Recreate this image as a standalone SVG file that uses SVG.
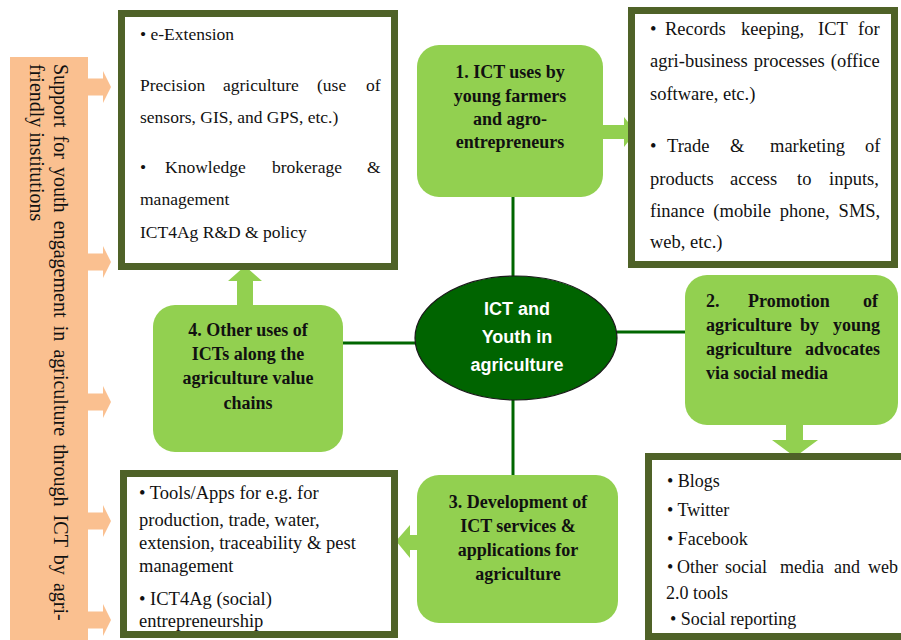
<svg xmlns="http://www.w3.org/2000/svg" width="901" height="640" viewBox="0 0 901 640">
<style>
.box{fill:#ffffff;stroke:#4f6228;stroke-width:7}
.node{fill:#92d050}
.arr{fill:#92d050}
.oarr{fill:#fac090}
.conn{stroke:#006600;stroke-width:3;fill:none}
.t{font-family:"Liberation Serif","Times New Roman",serif;fill:#111111}
.b{font-family:"Liberation Serif","Times New Roman",serif;font-weight:bold;font-size:18px;fill:#111111;text-anchor:middle}
.bl{font-family:"Liberation Serif","Times New Roman",serif;font-weight:bold;font-size:18px;fill:#111111}
.c{font-family:"Liberation Sans",Arial,sans-serif;font-weight:bold;font-size:18px;fill:#ffffff;text-anchor:middle}
</style>
<defs>
<polygon id="oa" points="88,-8.5 103,-8.5 103,-16 111,0 103,16 103,8.5 88,8.5"/>
</defs>
<rect width="901" height="640" fill="#ffffff"/>

<g id="support-bar">
<rect x="10" y="57" width="78" height="590" fill="#fac090"/>
<use href="#oa" class="oarr" y="87"/>
<use href="#oa" class="oarr" y="262"/>
<use href="#oa" class="oarr" y="402"/>
<use href="#oa" class="oarr" y="521"/>
<use href="#oa" class="oarr" y="620"/>
<g transform="translate(54,64) rotate(90)">
<text class="t" font-size="20" fill="#222" x="0" y="0" word-spacing="3.2">Support for youth engagement in agriculture through ICT by agri-</text>
<text class="t" font-size="20" fill="#222" x="0" y="24">friendly institutions</text>
</g>
</g>

<g id="connectors">
<line class="conn" x1="513" y1="197" x2="513" y2="277"/>
<line class="conn" x1="343" y1="343" x2="416" y2="343"/>
<line class="conn" x1="617" y1="332" x2="685" y2="332"/>
<line class="conn" x1="513" y1="399" x2="513" y2="475"/>
<polygon class="arr" points="602,125 624,125 624,117 636,132 624,147 624,139 602,139"/>
<polygon class="arr" points="237,305 237,281 228,281 245,266 262,281 253,281 253,305"/>
<polygon class="arr" points="786,424 786,440 772,440 795,457 818,440 803,440 803,424"/>
<polygon class="arr" points="418,535 410,535 410,525 396,541 410,558 410,550 418,550"/>
</g>

<g id="box-top-left">
<rect class="box" x="121.5" y="13.5" width="273" height="253"/>
<text class="t" font-size="17.5" x="140" y="40">• e-Extension</text>
<text class="t" font-size="17.5" y="91"><tspan x="140">Precision</tspan><tspan x="223">agriculture</tspan><tspan x="317">(use</tspan><tspan x="366">of</tspan></text>
<text class="t" font-size="17.5" x="140" y="123">sensors, GIS, and GPS, etc.)</text>
<text class="t" font-size="17.5" y="173"><tspan x="140">•</tspan><tspan x="165">Knowledge</tspan><tspan x="272">brokerage</tspan><tspan x="367">&amp;</tspan></text>
<text class="t" font-size="17.5" x="140" y="205">management</text>
<text class="t" font-size="17.5" x="140" y="238">ICT4Ag R&amp;D &amp; policy</text>
</g>

<g id="box-top-right">
<rect class="box" x="631.5" y="10.5" width="263" height="254"/>
<text class="t" font-size="18.5" y="35"><tspan x="650">•</tspan><tspan x="665">Records</tspan><tspan x="741">keeping,</tspan><tspan x="818">ICT</tspan><tspan x="858">for</tspan></text>
<text class="t" font-size="18.5" x="650" y="67" word-spacing="1.5">agri-business processes (office</text>
<text class="t" font-size="18.5" x="650" y="100">software, etc.)</text>
<text class="t" font-size="18.5" y="152"><tspan x="650">•</tspan><tspan x="667">Trade</tspan><tspan x="730">&amp;</tspan><tspan x="770">marketing</tspan><tspan x="865">of</tspan></text>
<text class="t" font-size="18.5" y="185"><tspan x="650">products</tspan><tspan x="730">access</tspan><tspan x="797">to</tspan><tspan x="829">inputs,</tspan></text>
<text class="t" font-size="18.5" x="650" y="217" word-spacing="4.3">finance (mobile phone, SMS,</text>
<text class="t" font-size="18.5" x="650" y="248">web, etc.)</text>
</g>

<g id="box-bottom-left">
<rect class="box" x="123.5" y="473.5" width="271" height="161"/>
<text class="t" font-size="18.5" x="139" y="499">• Tools/Apps for e.g. for</text>
<text class="t" font-size="18.5" x="139" y="526">production, trade, water,</text>
<text class="t" font-size="18.5" x="139" y="549">extension, traceability &amp; pest</text>
<text class="t" font-size="18.5" x="139" y="572">management</text>
<text class="t" font-size="18.5" x="139" y="605">• ICT4Ag (social)</text>
<text class="t" font-size="18.5" x="139" y="627">entrepreneurship</text>
</g>

<g id="box-bottom-right">
<rect class="box" x="648.5" y="456.5" width="262" height="180"/>
<text class="t" font-size="18" x="667" y="487">• Blogs</text>
<text class="t" font-size="18" x="667" y="516">• Twitter</text>
<text class="t" font-size="18" x="667" y="545">• Facebook</text>
<text class="t" font-size="18" y="573"><tspan x="667">•</tspan><tspan x="677">Other</tspan><tspan x="725">social</tspan><tspan x="780">media</tspan><tspan x="834">and</tspan><tspan x="868">web</tspan></text>
<text class="t" font-size="18" x="666" y="599">2.0 tools</text>
<text class="t" font-size="18" x="670" y="625">• Social reporting</text>
</g>

<g id="node-1">
<rect class="node" x="417" y="45" width="186" height="152" rx="22"/>
<text class="b" x="510" y="78">1. ICT uses by</text>
<text class="b" x="510" y="102">young farmers</text>
<text class="b" x="510" y="125">and agro-</text>
<text class="b" x="510" y="148">entrepreneurs</text>
</g>

<g id="node-2">
<rect class="node" x="685" y="275" width="213" height="150" rx="22"/>
<text class="bl" y="307"><tspan x="706">2.</tspan><tspan x="748">Promotion</tspan><tspan x="863">of</tspan></text>
<text class="bl" y="331"><tspan x="706">agriculture</tspan><tspan x="800">by</tspan><tspan x="833">young</tspan></text>
<text class="bl" y="355"><tspan x="706">agriculture</tspan><tspan x="805">advocates</tspan></text>
<text class="bl" x="706" y="379">via social media</text>
</g>

<g id="node-3">
<rect class="node" x="417" y="475" width="201" height="148" rx="22"/>
<text class="b" x="518" y="508">3. Development of</text>
<text class="b" x="518" y="532">ICT services &amp;</text>
<text class="b" x="518" y="556">applications for</text>
<text class="b" x="518" y="580">agriculture</text>
</g>

<g id="node-4">
<rect class="node" x="153" y="305" width="190" height="147" rx="22"/>
<text class="b" x="248" y="336">4. Other uses of</text>
<text class="b" x="248" y="360">ICTs along the</text>
<text class="b" x="248" y="384">agriculture value</text>
<text class="b" x="248" y="409">chains</text>
</g>

<g id="center">
<ellipse cx="516" cy="338" rx="101" ry="62" fill="#006400" stroke="#1a1a1a" stroke-width="1.2"/>
<text class="c" x="517" y="315">ICT and</text>
<text class="c" x="517" y="343">Youth in</text>
<text class="c" x="517" y="371">agriculture</text>
</g>
</svg>
